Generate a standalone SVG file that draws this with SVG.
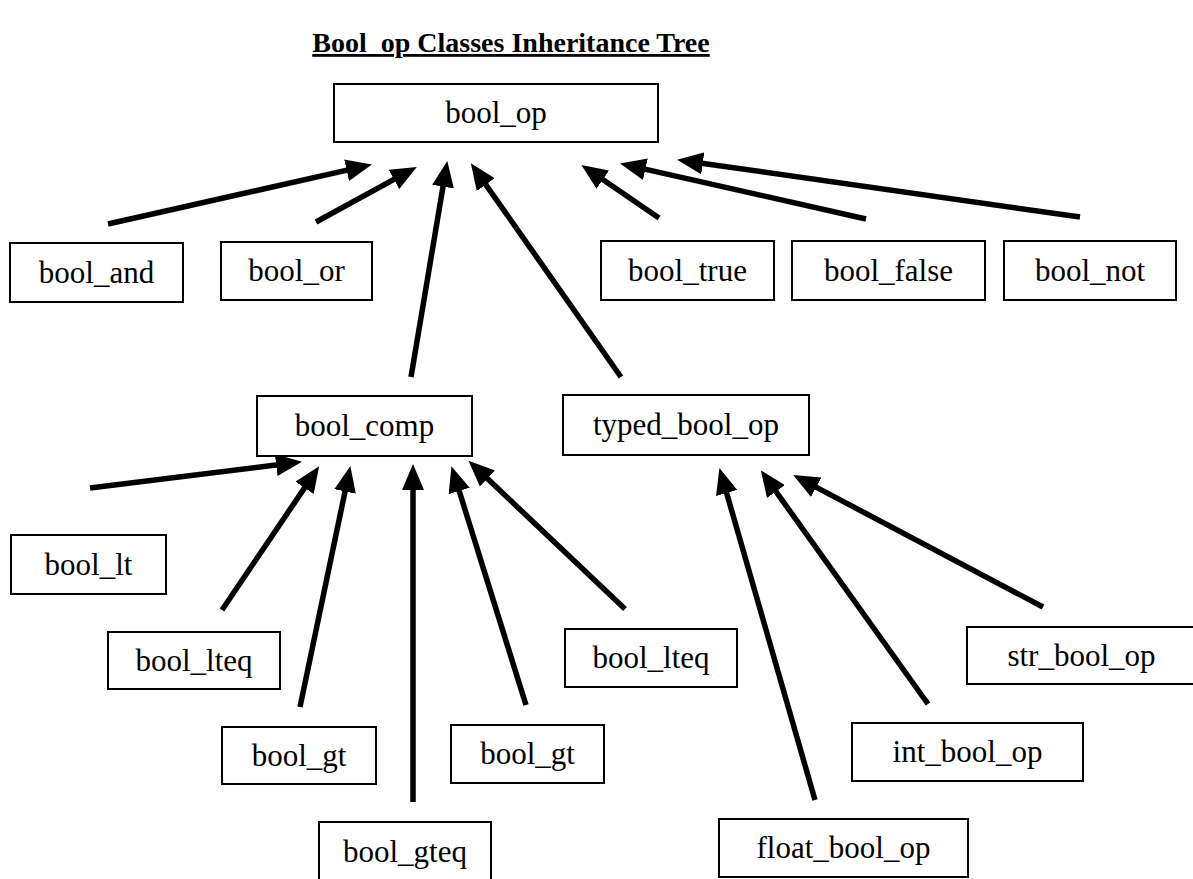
<svg xmlns="http://www.w3.org/2000/svg" width="1193" height="879" viewBox="0 0 1193 879">
  <defs>
    <style>
      .box rect { fill: #ffffff; stroke: #000000; stroke-width: 2; }
      .box text { font-family: "Liberation Serif", "Times New Roman", serif; font-size: 31px; fill: #000000; text-anchor: middle; }
      .title { font-family: "Liberation Serif", "Times New Roman", serif; font-size: 28px; font-weight: bold; text-anchor: middle; text-decoration: underline; fill: #000000; }
      #connectors line { stroke: #000000; stroke-width: 5.5; marker-end: url(#head); }
    </style>
    <marker id="head" markerUnits="userSpaceOnUse" markerWidth="26" markerHeight="22" viewBox="0 -11 26 22" refX="12" refY="0" orient="auto">
      <path d="M0,-11 L26,0 L0,11 z" fill="#000000"/>
    </marker>
  </defs>
  <rect width="1193" height="879" fill="#ffffff"/>

  <text class="title" x="511" y="52">Bool_op Classes Inheritance Tree</text>

  <!-- inheritance arrows: child to parent -->
  <g id="connectors">
    <!-- into bool_op -->
    <line x1="108" y1="224" x2="358.3" y2="167.6"/>
    <line x1="316" y1="222" x2="404.5" y2="173.7"/>
    <line x1="411" y1="377" x2="445.0" y2="174.8"/>
    <line x1="621" y1="377" x2="478.9" y2="174.8"/>
    <line x1="659" y1="218" x2="592.9" y2="172.8"/>
    <line x1="866" y1="219" x2="633.7" y2="166.6"/>
    <line x1="1080" y1="217" x2="690.9" y2="161.7"/>
    <!-- into bool_comp -->
    <line x1="90" y1="488" x2="288.1" y2="463.5"/>
    <line x1="222" y1="610" x2="311.3" y2="477.9"/>
    <line x1="300" y1="707" x2="347.5" y2="479.7"/>
    <line x1="413" y1="802" x2="413" y2="478"/>
    <line x1="526" y1="705" x2="455.6" y2="479.5"/>
    <line x1="625" y1="609" x2="478.7" y2="470.3"/>
    <!-- into typed_bool_op -->
    <line x1="815" y1="800" x2="723.3" y2="481.5"/>
    <line x1="928" y1="704" x2="769.0" y2="481.8"/>
    <line x1="1043" y1="607" x2="805.6" y2="481.6"/>
  </g>

  <g id="bool_op" class="box"><rect x="334" y="84" width="324" height="58"/><text x="496" y="123">bool_op</text></g>
  <g id="bool_and" class="box"><rect x="10" y="243" width="173" height="59"/><text x="96.5" y="283">bool_and</text></g>
  <g id="bool_or" class="box"><rect x="221" y="242" width="151" height="58"/><text x="296.5" y="281">bool_or</text></g>
  <g id="bool_true" class="box"><rect x="601" y="241" width="173" height="59"/><text x="687.5" y="281">bool_true</text></g>
  <g id="bool_false" class="box"><rect x="792" y="241" width="193" height="59"/><text x="888.5" y="281">bool_false</text></g>
  <g id="bool_not" class="box"><rect x="1004" y="241" width="172" height="59"/><text x="1090" y="281">bool_not</text></g>
  <g id="bool_comp" class="box"><rect x="257" y="396" width="215" height="60"/><text x="364.5" y="436">bool_comp</text></g>
  <g id="typed_bool_op" class="box"><rect x="563" y="395" width="246" height="60"/><text x="686" y="435">typed_bool_op</text></g>
  <g id="bool_lt" class="box"><rect x="11" y="535" width="155" height="59"/><text x="88.5" y="575">bool_lt</text></g>
  <g id="bool_lteq_1" class="box"><rect x="108" y="632" width="172" height="57"/><text x="194" y="671">bool_lteq</text></g>
  <g id="bool_lteq_2" class="box"><rect x="565" y="629" width="172" height="58"/><text x="651" y="668">bool_lteq</text></g>
  <g id="bool_gt_1" class="box"><rect x="222" y="727" width="154" height="57"/><text x="299" y="766">bool_gt</text></g>
  <g id="bool_gt_2" class="box"><rect x="451" y="725" width="153" height="58"/><text x="527.5" y="764">bool_gt</text></g>
  <g id="bool_gteq" class="box"><rect x="319" y="822" width="172" height="62"/><text x="405" y="862">bool_gteq</text></g>
  <g id="str_bool_op" class="box"><rect x="967" y="627" width="229" height="57"/><text x="1081.5" y="666">str_bool_op</text></g>
  <g id="int_bool_op" class="box"><rect x="852" y="723" width="231" height="58"/><text x="967.5" y="762">int_bool_op</text></g>
  <g id="float_bool_op" class="box"><rect x="719" y="819" width="249" height="58"/><text x="843.5" y="858">float_bool_op</text></g>
</svg>
